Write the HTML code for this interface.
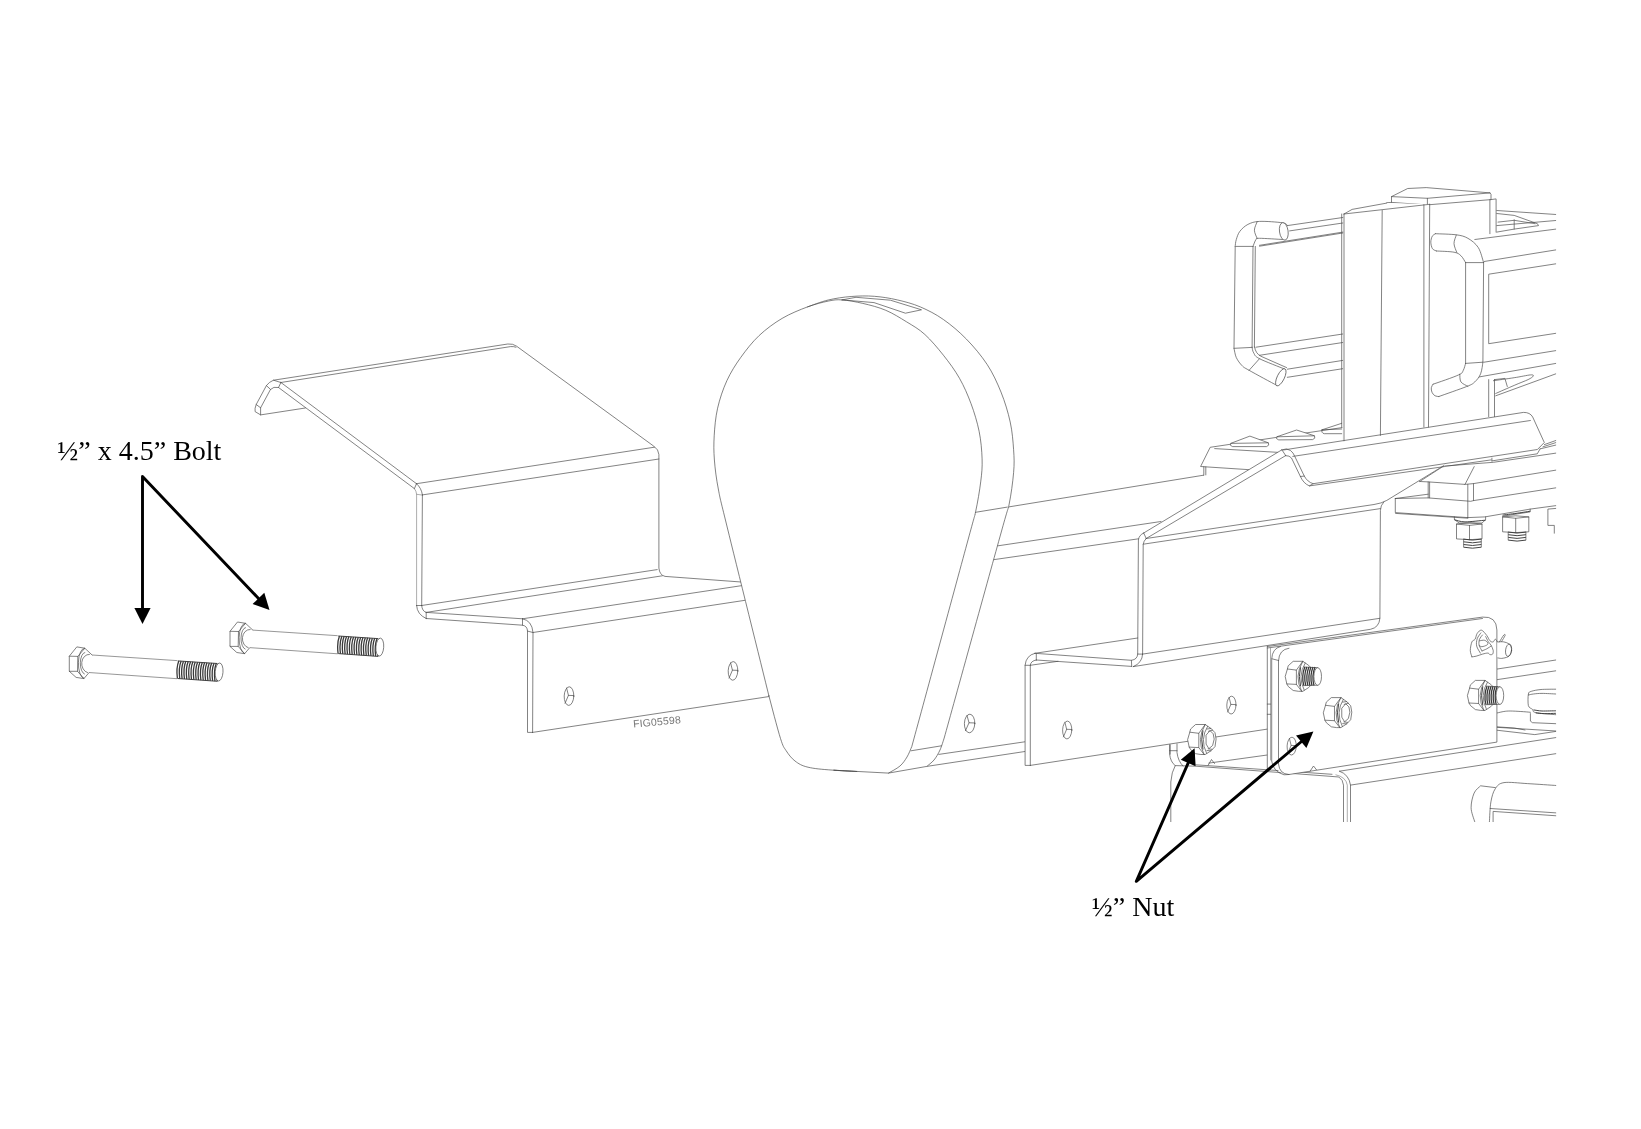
<!DOCTYPE html>
<html><head><meta charset="utf-8">
<style>
html,body{margin:0;padding:0;background:#fff;}
body{width:1641px;height:1129px;overflow:hidden;position:relative;}
svg{position:absolute;left:0;top:0;will-change:transform;}
.l{fill:none;stroke:#484848;stroke-width:0.68;stroke-linecap:round;stroke-linejoin:round;}
.g{fill:none;stroke:#8a8a8a;stroke-width:0.7;stroke-linecap:round;stroke-linejoin:round;}
.s{fill:none;stroke:#666;stroke-width:0.68;}
.t2{fill:none;stroke:#3a3a3a;stroke-width:1.3;}
.w{fill:#fff;stroke:none;}
.wl{fill:#fff;stroke:#484848;stroke-width:0.68;stroke-linejoin:round;}
.t{fill:none;stroke:#3a3a3a;stroke-width:0.95;}
.a{stroke:#000;stroke-width:2.9;fill:none;}
.ah{fill:#000;stroke:none;}
text.lbl{font-family:"Liberation Serif",serif;font-size:28px;fill:#000;opacity:0.999;}
text.fig{font-family:"Liberation Sans",sans-serif;font-size:10.5px;fill:#777;letter-spacing:0.15px;}
</style></head><body>
<svg width="1641" height="1129" viewBox="0 0 1641 1129">
<g id="beam">
<path class="l" d="M975.0,512.4 L1203.6,475.2"/>
<path class="l" d="M990.0,547.0 L1161.0,521.5"/>
<path class="l" d="M990.0,560.2 L1138.6,538.8"/>
<path class="l" d="M938.8,754.4 L1024.9,741.8"/>
<path class="l" d="M926.8,766.4 L1024.9,751.5"/>
<g transform="translate(969.6,723.5) rotate(2)"><ellipse class="l" cx="0" cy="0" rx="5.2" ry="9.3"/><path class="l" d="M-2.9,-8 L-0.6,-0.7 L5.2,-0.7 M-0.6,-0.7 L-3.9,7.3"/></g>
</g>
<defs><clipPath id="clip"><rect x="0" y="0" width="1556.2" height="822"/></clipPath></defs>
<g id="assembly" clip-path="url(#clip)">
<path class="l" d="M1474.8,239.5 L1555.9,229.1"/>
<path class="l" d="M1484.1,261.5 L1555.9,249.9"/>
<path class="l" d="M1555.9,263.8 L1488.7,274.2 L1488.7,343.7 L1555.9,333.3"/>
<path class="l" d="M1484.1,362.2 L1555.9,350.6"/>
<path class="l" d="M1477.1,377.3 L1555.9,363.4"/>
<path class="l" d="M1493.4,380.7 C1496.8,380.2 1508.0,378.7 1514.2,377.7 C1520.4,376.8 1527.2,375.2 1530.4,374.9 C1533.6,374.7 1533.6,375.3 1533.2,376.1 C1532.8,376.9 1531.3,378.0 1528.1,379.6 C1524.9,381.1 1519.6,383.0 1514.2,385.4 C1508.8,387.7 1498.8,392.1 1495.7,393.5"/>
<path class="l" d="M1494.5,379.6 L1504.9,378.4 L1507.3,386.5"/>
<path class="l" d="M1488.7,379.6 L1488.7,416.6"/>
<path class="l" d="M1494.5,379.6 L1494.5,416.6"/>
<path class="l" d="M1495.7,395.8 L1555.9,373.8"/>
<path class="l" d="M1496.8,210.5 L1555.9,214.5"/>
<path class="l" d="M1496.8,213.5 L1514.2,215.4 L1537.4,223.7 L1538.5,225.6 L1514.2,229.1 L1496.8,232.1"/>
<path class="l" d="M1514.2,219.8 L1514.2,229.1"/>
<path class="l" d="M1496.8,225.6 L1555.9,220.5"/>
<path class="l" d="M1498.0,222.1 L1514.2,220.3 L1535.0,223.7"/>
<path class="wl" d="M1391.5,196.6 L1407.7,188.5 L1426.2,187.6 L1490.1,192.9 L1427.4,198.3 L1391.5,196.6"/>
<path class="l" d="M1391.5,196.6 L1391.5,202.4 L1423.9,204.7"/>
<path class="l" d="M1386.8,202.7 L1391.5,202.4"/>
<path class="l" d="M1427.4,198.3 L1427.4,204.7"/>
<path class="l" d="M1490.1,192.9 L1491.0,194.3 L1491.0,199.6 L1429.7,204.7"/>
<path class="l" d="M1491.0,199.6 L1496.1,198.9 L1496.1,232.1"/>
<path class="l" d="M1489.9,199.6 L1489.9,233.7"/>
<path class="l" d="M1287.3,225.6 L1342.8,217.5"/>
<path class="l" d="M1289.6,230.9 L1342.8,223.0"/>
<path class="l" d="M1259.5,246.2 L1342.8,233.0"/>
<path class="l" d="M1259.5,245.3 L1342.8,232.1"/>
<path class="l" d="M1256.0,347.2 L1342.8,334.0"/>
<path class="l" d="M1259.5,355.3 L1342.8,342.5"/>
<path class="l" d="M1287.3,369.2 L1342.8,360.4"/>
<path class="l" d="M1287.3,377.3 L1342.8,368.7"/>
<path class="w" d="M1287.3,225.6 C1286.5,225.1 1287.3,223.5 1282.6,222.8 C1278.0,222.1 1265.3,221.1 1259.5,221.4 C1253.7,221.7 1251.2,222.8 1247.9,224.4 C1244.6,226.1 1241.7,228.9 1239.8,231.4 C1237.9,233.9 1237.1,237.0 1236.3,239.5 C1235.5,242.0 1235.3,245.3 1235.2,246.4 L1253.0,246.4 L1256.0,239.5 L1259.5,238.3 L1282.6,239.5Z"/>
<path class="l" d="M1287.3,225.6 C1286.5,225.1 1287.3,223.5 1282.6,222.8 C1278.0,222.1 1265.3,221.1 1259.5,221.4 C1253.7,221.7 1251.2,222.8 1247.9,224.4 C1244.6,226.1 1241.7,228.9 1239.8,231.4 C1237.9,233.9 1237.1,237.0 1236.3,239.5 C1235.5,242.0 1235.3,245.3 1235.2,246.4"/>
<path class="l" d="M1282.6,239.5 C1278.8,239.3 1263.9,238.3 1259.5,238.3 C1255.0,238.3 1257.1,238.1 1256.0,239.5 C1254.9,240.8 1253.5,245.3 1253.0,246.4"/>
<g>
<path class="w" d="M1235.2,246.4 L1234.0,348.3 L1252.1,347.2 L1253.0,246.4Z"/>
<path class="l" d="M1235.2,246.4 L1234.0,348.3"/>
<path class="l" d="M1253.0,246.4 L1252.1,347.2"/>
<path class="l" d="M1255.3,246.4 L1254.4,347.2"/>
</g>
<path class="w" d="M1234.0,348.3 C1234.4,349.9 1235.0,354.7 1236.3,357.6 C1237.7,360.5 1240.0,363.6 1242.1,365.7 C1244.2,367.8 1243.3,367.0 1249.1,370.3 C1254.8,373.6 1272.2,382.9 1276.8,385.4 L1284.9,369.2 L1259.5,358.7 L1253.7,352.9 L1252.1,347.2Z"/>
<path class="l" d="M1234.0,348.3 C1234.4,349.9 1235.0,354.7 1236.3,357.6 C1237.7,360.5 1240.0,363.6 1242.1,365.7 C1244.2,367.8 1243.3,367.0 1249.1,370.3 C1254.8,373.6 1272.2,382.9 1276.8,385.4"/>
<path class="l" d="M1252.1,347.2 C1252.3,348.1 1252.4,351.0 1253.7,352.9 C1254.9,354.9 1254.3,356.0 1259.5,358.7 C1264.7,361.4 1280.7,367.4 1284.9,369.2"/>
<path class="l" d="M1235.9,246.4 L1253.0,246.4"/>
<path class="l" d="M1234.5,348.3 L1252.1,347.4"/>
<path class="l" d="M1249.1,370.3 L1259.5,358.7"/>
<path class="l" d="M1254.6,347 Q1255.5,353.5 1261,356.3 L1286.6,367.6"/>
<path class="l" d="M1257.2,221.6 C1256.7,223.1 1254.4,227.4 1254.4,230.2 C1254.4,233.0 1256.7,237.2 1257.2,238.5"/>
<ellipse class="wl" cx="1283.8" cy="231.4" rx="4.3" ry="8.8" transform="rotate(-8 1283.8 231.4)"/>
<ellipse class="wl" cx="1280.8" cy="377.3" rx="3.6" ry="9.4" transform="rotate(26 1280.8 377.3)"/>
<path class="w" d="M1344.0,214.0 L1352.1,209.4 L1386.8,203.1 L1429.7,204.3 L1429.7,447.9 L1342.8,447.9Z"/>
<path class="l" d="M1341.7,214.0 L1341.7,440.9"/>
<path class="l" d="M1344.0,214.0 L1344.0,440.9"/>
<path class="l" d="M1382.2,210.5 L1380.4,436.3"/>
<path class="l" d="M1423.9,204.7 L1423.9,427.0"/>
<path class="l" d="M1429.7,204.3 L1428.5,427.0"/>
<path class="l" d="M1344.0,214.0 L1429.7,204.3"/>
<path class="l" d="M1344.0,214.0 L1352.1,209.4 L1386.8,203.1"/>
<path class="w" d="M1435.5,233.7 C1438.9,233.9 1450.9,234.1 1456.3,234.8 C1461.7,235.6 1464.2,236.2 1467.9,238.3 C1471.6,240.4 1475.7,243.5 1478.3,247.6 C1480.9,251.6 1482.7,260.1 1483.6,262.6 L1465.6,262.6 L1460.9,255.7 L1454.0,252.2 L1436.6,251.0Z"/>
<path class="l" d="M1435.5,233.7 C1438.9,233.9 1450.9,234.1 1456.3,234.8 C1461.7,235.6 1464.2,236.2 1467.9,238.3 C1471.6,240.4 1475.7,243.5 1478.3,247.6 C1480.9,251.6 1482.7,260.1 1483.6,262.6"/>
<path class="l" d="M1436.6,251.0 C1439.5,251.2 1449.9,251.4 1454.0,252.2 C1458.0,253.0 1459.0,253.9 1460.9,255.7 C1462.9,257.4 1464.8,261.5 1465.6,262.6"/>
<path class="w" d="M1483.6,262.6 L1482.9,362.2 L1465.6,363.4 L1465.6,262.6Z"/>
<path class="l" d="M1483.6,262.6 L1482.9,362.2"/>
<path class="l" d="M1465.6,262.6 L1465.6,363.4"/>
<path class="w" d="M1482.9,362.2 C1482.6,364.1 1482.0,370.5 1480.6,373.8 C1479.3,377.1 1477.1,379.8 1474.8,381.9 C1472.5,384.0 1472.7,384.1 1466.7,386.5 C1460.7,388.9 1443.6,394.8 1438.9,396.5 L1433.1,384.2 L1458.6,374.9 L1463.3,370.3 L1465.6,363.4Z"/>
<path class="l" d="M1482.9,362.2 C1482.6,364.1 1482.0,370.5 1480.6,373.8 C1479.3,377.1 1477.1,379.8 1474.8,381.9 C1472.5,384.0 1472.7,384.1 1466.7,386.5 C1460.7,388.9 1443.6,394.8 1438.9,396.5"/>
<path class="l" d="M1465.6,363.4 C1465.2,364.5 1464.4,368.4 1463.3,370.3 C1462.1,372.2 1463.6,372.6 1458.6,374.9 C1453.6,377.3 1437.4,382.7 1433.1,384.2"/>
<path class="l" d="M1435.5,233.7 C1434.9,234.1 1433.0,234.8 1432.2,236.2 C1431.5,237.7 1430.8,240.2 1430.8,242.2 C1430.9,244.3 1431.5,247.3 1432.5,248.7 C1433.4,250.2 1435.9,250.7 1436.6,251.0"/>
<path class="l" d="M1433.1,384.2 C1432.8,384.8 1431.5,386.3 1431.3,387.7 C1431.1,389.0 1431.4,391.0 1432.0,392.3 C1432.6,393.7 1433.8,395.1 1435.0,395.8 C1436.2,396.5 1438.3,396.4 1438.9,396.5"/>
<path class="l" d="M1456.3,235.1 C1455.9,236.5 1453.9,240.7 1454.0,243.6 C1454.1,246.5 1456.3,251.0 1456.8,252.4"/>
<path class="l" d="M1465.6,262.6 L1483.6,262.6"/>
<path class="l" d="M1465.6,363.4 L1482.9,362.2"/>
<path class="l" d="M1459.8,374.2 C1460.0,375.5 1459.6,379.9 1460.9,381.9 C1462.3,383.9 1466.7,385.6 1467.9,386.3"/>
</g>
<g id="assembly2" clip-path="url(#clip)">
<path class="w" d="M1200.6,466.5 L1210.2,447.3 L1342.8,427.5 L1342.8,470.0 L1249.3,469.7Z"/>
<path class="l" d="M1249.3,469.7 L1200.6,466.5 L1210.2,447.3 L1342.0,427.6"/>
<path class="l" d="M1214.7,448.6 L1278.7,452.4"/>
<path class="l" d="M1203.8,466.7 L1203.8,475.2"/>
<path class="l" d="M1205.8,466.9 L1205.8,474.9"/>
<path class="wl" d="M1230.7,443.4 L1249.9,436.1 L1268.4,442.8 Q1269.9,445.6 1266.5,446.6 L1232.6,446.6 Q1229.2,445.6 1230.7,443.4 L1268.4,442.8"/>
<path class="wl" d="M1276.8,436.8 L1296.6,430 L1314.5,435.8 Q1316.0,438.6 1312.6,439.6 L1278.7,439.9 Q1275.3,438.9 1276.8,436.8 L1314.5,435.8"/>
<path class="l" d="M1322.0,429.8 L1341.7,423.3"/>
<path class="l" d="M1322,429.8 Q1321,433 1324.3,433.7 L1341.7,433.7"/>
<path class="l" d="M1322.0,429.8 L1341.7,429.0"/>
<path class="l" d="M1556.1,453.1 L1493.4,462.3 L1445.2,466.0"/>
<path class="w" d="M1395.3,498.5 L1428.2,494.2 L1428.2,481.9 L1419.7,481.5 L1443.8,465.9 L1474.2,466.6 L1556.1,455.3 L1556.1,505.6 L1484.9,516.9 L1467.8,517.6 L1395.3,512.6Z"/>
<path class="l" d="M1419.7,481.5 L1443.8,465.9"/>
<path class="l" d="M1419.7,481.5 L1428.2,481.9 L1465.0,484.4 L1474.2,466.6"/>
<path class="l" d="M1465.0,484.4 L1473.5,483.6 L1556.1,470.1"/>
<path class="l" d="M1428.2,481.9 L1428.2,497.8"/>
<path class="l" d="M1429.6,482.2 L1429.6,497.8"/>
<path class="l" d="M1467.8,484.4 L1467.8,517.6"/>
<path class="l" d="M1473.5,483.6 L1473.5,500.6"/>
<path class="l" d="M1395.3,498.5 L1428.2,497.9 L1470.7,501.3 L1473.5,500.6 L1556.1,487.8"/>
<path class="l" d="M1395.3,498.5 L1428.2,494.2"/>
<path class="l" d="M1395.3,498.5 L1395.3,512.6 L1467.8,517.6"/>
<path class="l" d="M1395.6,513.4 L1467.8,518.2"/>
<path class="l" d="M1467.8,517.6 L1484.9,516.9 L1530.2,509.1 L1556.1,505.6"/>
<path class="l" d="M1454.4,516.9 L1454.4,519.7 L1459.3,523.0 L1482.0,523.0 L1485.6,519.7 L1485.6,516.9"/>
<path class="t" d="M1454.4,519.7 C1456.2,520.1 1459.8,521.8 1465.0,521.9 C1470.2,521.9 1482.1,520.4 1485.6,520.2"/>
<path class="wl" d="M1456.5,524.0 L1456.5,538.9 L1469.5,539.7 L1482.0,538.9 L1482.0,524.0 L1469.5,525.4Z"/>
<path class="l" d="M1469.5,525.4 L1469.5,539.7"/>
<path class="l" d="M1456.5,524.0 L1469.5,522.8 L1482.0,524.0"/>
<path class="t" d="M1463.6,539.1 Q1472.5,541.1 1481.3,539.1"/>
<path class="t" d="M1463.6,541.8 Q1472.5,543.8 1481.3,541.8"/>
<path class="t" d="M1463.6,544.5 Q1472.5,546.5 1481.3,544.5"/>
<path class="t" d="M1463.6,547.2 Q1472.5,549.2 1481.3,547.2"/>
<path class="l" d="M1463.6,539.1 L1463.6,546.9"/>
<path class="l" d="M1481.3,539.1 L1481.3,546.9"/>
<path class="l" d="M1502.6,516.2 L1530.2,511.9 L1530.2,509.1"/>
<path class="t" d="M1502.6,515.1 C1504.8,514.8 1511.4,514.0 1516.0,513.4 C1520.6,512.7 1527.8,511.6 1530.2,511.2"/>
<path class="wl" d="M1502.6,516.9 L1502.6,531.8 L1515.7,532.6 L1528.8,531.8 L1528.8,516.9 L1515.7,518.3Z"/>
<path class="l" d="M1515.7,518.3 L1515.7,532.6"/>
<path class="l" d="M1502.6,516.9 L1515.7,515.8 L1528.8,516.9"/>
<path class="t" d="M1508.2,532.1 Q1517.1,534.0 1525.9,532.1"/>
<path class="t" d="M1508.2,534.7 Q1517.1,536.7 1525.9,534.7"/>
<path class="t" d="M1508.2,537.4 Q1517.1,539.4 1525.9,537.4"/>
<path class="t" d="M1508.2,540.1 Q1517.1,542.1 1525.9,540.1"/>
<path class="l" d="M1508.2,532.1 L1508.2,539.8"/>
<path class="l" d="M1525.9,532.1 L1525.9,539.8"/>
<path class="l" d="M1556.1,508.4 L1547.9,509.1 L1547.9,525.4 L1554.3,525.4 L1554.3,533.2"/>
</g>
<g id="left">
<path class="w" d="M255.1,408.3 L266.4,385.6 L273.5,380.2 L507.8,344 Q513,343.5 516.6,346.2 L653.8,446.2 Q658.7,449.5 658.9,454.5 L658.9,568 Q659.5,575 665,576.4 L745,582.3 L772,697 L532.6,732.4 L527.5,732.4 L527.5,631 Q527,626 522.5,625.2 L426.2,618.5 Q416.8,614 416.6,605.5 L416.6,494 L414.4,488.6 L305.3,408 L260.6,414.9 L255.1,411.6Z"/>
<path class="l" d="M280.9,382.5 L273.5,380.2 Q269,382 266.4,385.6 L256.2,404.5 L255.1,408.3 L255.1,411.6 L260.6,414.9 L305.3,408"/>
<path class="l" d="M266.4,385.6 L270.5,389.4 L260.6,407.8 L256.2,404.5"/>
<path class="l" d="M260.6,407.8 L260.6,414.9"/>
<path class="l" d="M270.5,389.4 Q273.5,386.2 278.5,387.5 L280.9,382.5"/>
<path class="l" d="M273.5,380.2 L507.8,344 Q513,343.5 516.6,346.2 L653.8,446.2 Q658.7,449.5 658.9,454.5 L658.9,568 Q659.5,575 665,576.4 L741,582"/>
<path class="l" d="M280.9,382.5 L510.5,346.6 Q513.5,346.3 516,347.2"/>
<path class="l" d="M280.9,382.5 L416.5,483.7"/>
<path class="l" d="M278.5,387.5 L414.4,488.6"/>
<path class="l" d="M416.5,483.7 L414.4,488.6"/>
<path class="l" d="M416.5,483.7 Q421.5,488 422.4,494.9"/>
<path class="g" d="M414.4,488.6 Q416.4,491 416.6,494.3 L422.4,495.1"/>
<path class="l" d="M416.5,483.7 L654.5,447.2"/>
<path class="l" d="M422.4,494.9 L658.9,459.0"/>
<path class="g" d="M416.6,494.3 L416.6,605.5"/>
<path class="l" d="M422.4,494.9 L421.7,605.5"/>
<path class="l" d="M416.6,605.5 L421.7,605.5"/>
<path class="l" d="M416.6,605.5 Q417,614.5 426.2,618.5"/>
<path class="l" d="M421.7,605.5 Q422,611 426.2,612.4 L426.2,618.5"/>
<path class="l" d="M421.7,605.5 L657.2,569.6"/>
<path class="l" d="M426.2,612.4 L662.3,575.8"/>
<path class="l" d="M426.2,612.4 L522.5,618.8"/>
<path class="l" d="M426.2,618.5 L522.5,625.2 Q527.3,626 527.5,631.1 L527.5,732.4 L532.6,732.4"/>
<path class="l" d="M522.5,618.8 Q532,620.5 533,632.5 L532.6,732.4"/>
<path class="l" d="M522.5,618.8 L522.5,625.2"/>
<path class="l" d="M527.5,631.1 L533.0,632.5"/>
<path class="l" d="M522.5,618.8 L742.0,585.6"/>
<path class="l" d="M533.0,632.5 L745.0,600.3"/>
<path class="l" d="M532.6,732.4 L770.0,696.4"/>
<g transform="translate(569,696.1) rotate(2) scale(1.000)"><ellipse class="l" cx="0" cy="0" rx="4.8" ry="9.3"/><path class="l" d="M-2.7,-8 L-0.6,-0.7 L4.8,-0.7 M-0.6,-0.7 L-3.7,7.3"/></g>
<g transform="translate(733,670.9) rotate(2) scale(1.000)"><ellipse class="l" cx="0" cy="0" rx="4.8" ry="9.3"/><path class="l" d="M-2.7,-8 L-0.6,-0.7 L4.8,-0.7 M-0.6,-0.7 L-3.7,7.3"/></g>
<text class="fig" transform="translate(633.5,727.6) rotate(-5.3)">FIG05598</text>
</g>
<g id="tear">
<path class="w" d="M807.5,306.9 C811.0,305.8 820.9,301.7 828.2,300.0 C835.5,298.3 843.5,297.1 851.2,296.5 C858.9,295.9 866.6,295.7 874.3,296.3 C882.0,296.9 889.6,298.1 897.3,299.9 C905.0,301.7 912.6,303.6 920.3,306.9 C928.0,310.2 935.7,314.1 943.4,319.5 C951.1,324.9 959.1,331.6 966.4,339.1 C973.7,346.6 981.3,355.6 987.1,364.4 C992.9,373.2 997.1,382.5 1001.0,392.1 C1004.9,401.7 1008.1,412.4 1010.2,422.0 C1012.3,431.6 1013.0,441.2 1013.6,449.7 C1014.2,458.1 1014.4,463.5 1013.6,472.7 C1012.8,481.9 1011.1,494.8 1009.0,504.9 C1006.9,514.9 1011.8,494.1 1001.0,533.0 C990.2,571.9 953.7,703.8 944.2,738.0 C943.5,740.0 941.7,746.3 940.0,750.0 C938.3,753.7 936.2,757.3 934.0,760.0 C931.8,762.7 928.0,765.3 926.8,766.4 L888.5,773.1 L833,770 L790,540Z"/>
<path class="w" d="M768.9,695.8 C762.0,667.8 735.8,562.3 727.4,528.0 C719.0,493.7 720.7,501.3 718.5,490.0 C716.3,478.7 715.1,469.0 714.4,460.0 C713.7,451.0 713.7,444.4 714.2,435.8 C714.7,427.2 715.5,417.4 717.6,408.2 C719.7,399.0 723.0,389.1 726.9,380.6 C730.8,372.2 735.3,365.0 740.7,357.5 C746.1,350.0 752.2,342.1 759.1,335.6 C766.0,329.1 774.0,323.2 782.1,318.4 C790.2,313.6 799.8,309.8 807.5,306.9 C815.2,304.0 822.5,302.3 828.2,301.1 C834.0,299.9 836.2,299.5 842.0,299.9 C847.8,300.3 855.5,301.7 862.8,303.4 C870.1,305.1 878.5,307.2 885.8,310.3 C893.1,313.4 900.0,317.8 906.5,321.8 C913.0,325.8 918.8,328.9 924.9,334.5 C931.0,340.1 937.6,347.9 943.4,355.2 C949.2,362.5 954.9,370.2 959.5,378.3 C964.1,386.4 967.7,394.8 971.0,403.6 C974.3,412.4 977.2,422.0 979.1,431.2 C981.0,440.4 981.8,450.4 982.1,458.9 C982.4,467.3 981.8,473.1 980.7,481.9 C979.6,490.7 977.7,502.1 975.6,511.8 C973.5,521.5 978.6,500.9 968.0,540.0 C957.4,579.1 921.2,712.1 911.8,746.5 C911.0,748.2 909.0,753.8 907.0,757.0 C905.0,760.2 903.1,763.3 900.0,766.0 C896.9,768.7 890.4,771.9 888.5,773.1 L833.5,770.2 C879.3,772.6 846.9,771.2 833.5,770.2 C820.1,769.2 814.4,768.7 808.0,767.2 C801.6,765.7 798.7,763.8 795.0,761.0 C791.3,758.2 788.4,754.2 786.0,750.5 C783.6,746.8 783.4,747.6 780.5,738.5 C777.6,729.4 770.8,702.9 768.9,695.8Z"/>
<path class="l" d="M807.5,306.9 C811.0,305.8 820.9,301.7 828.2,300.0 C835.5,298.3 843.5,297.1 851.2,296.5 C858.9,295.9 866.6,295.7 874.3,296.3 C882.0,296.9 889.6,298.1 897.3,299.9 C905.0,301.7 912.6,303.6 920.3,306.9 C928.0,310.2 935.7,314.1 943.4,319.5 C951.1,324.9 959.1,331.6 966.4,339.1 C973.7,346.6 981.3,355.6 987.1,364.4 C992.9,373.2 997.1,382.5 1001.0,392.1 C1004.9,401.7 1008.1,412.4 1010.2,422.0 C1012.3,431.6 1013.0,441.2 1013.6,449.7 C1014.2,458.1 1014.4,463.5 1013.6,472.7 C1012.8,481.9 1011.1,494.8 1009.0,504.9 C1006.9,514.9 1011.8,494.1 1001.0,533.0 C990.2,571.9 953.7,703.8 944.2,738.0 C943.5,740.0 941.7,746.3 940.0,750.0 C938.3,753.7 936.2,757.3 934.0,760.0 C931.8,762.7 928.0,765.3 926.8,766.4 L888.5,773.1"/>
<path class="l" d="M768.9,695.8 C762.0,667.8 735.8,562.3 727.4,528.0 C719.0,493.7 720.7,501.3 718.5,490.0 C716.3,478.7 715.1,469.0 714.4,460.0 C713.7,451.0 713.7,444.4 714.2,435.8 C714.7,427.2 715.5,417.4 717.6,408.2 C719.7,399.0 723.0,389.1 726.9,380.6 C730.8,372.2 735.3,365.0 740.7,357.5 C746.1,350.0 752.2,342.1 759.1,335.6 C766.0,329.1 774.0,323.2 782.1,318.4 C790.2,313.6 799.8,309.8 807.5,306.9 C815.2,304.0 822.5,302.3 828.2,301.1 C834.0,299.9 836.2,299.5 842.0,299.9 C847.8,300.3 855.5,301.7 862.8,303.4 C870.1,305.1 878.5,307.2 885.8,310.3 C893.1,313.4 900.0,317.8 906.5,321.8 C913.0,325.8 918.8,328.9 924.9,334.5 C931.0,340.1 937.6,347.9 943.4,355.2 C949.2,362.5 954.9,370.2 959.5,378.3 C964.1,386.4 967.7,394.8 971.0,403.6 C974.3,412.4 977.2,422.0 979.1,431.2 C981.0,440.4 981.8,450.4 982.1,458.9 C982.4,467.3 981.8,473.1 980.7,481.9 C979.6,490.7 977.7,502.1 975.6,511.8 C973.5,521.5 978.6,500.9 968.0,540.0 C957.4,579.1 921.2,712.1 911.8,746.5 C911.0,748.2 909.0,753.8 907.0,757.0 C905.0,760.2 903.1,763.3 900.0,766.0 C896.9,768.7 890.4,771.9 888.5,773.1 L833.5,770.2 C879.3,772.6 846.9,771.2 833.5,770.2 C820.1,769.2 814.4,768.7 808.0,767.2 C801.6,765.7 798.7,763.8 795.0,761.0 C791.3,758.2 788.4,754.2 786.0,750.5 C783.6,746.8 783.4,747.6 780.5,738.5 C777.6,729.4 770.8,702.9 768.9,695.8Z"/>
<path class="l" d="M911.0,750.8 L941.5,745.8"/>
<path class="l" d="M975.6,512.3 L1007.3,507.1"/>
<path class="l" d="M842.0,299.9 L856.0,297.3 L890.4,300.2 L921.5,309.8 L905.4,313.2 L874.0,302.6 L842.0,299.9"/>
</g>
<g id="right">
<path class="w" d="M1143.7,533 L1281.9,449.8 Q1287,447.8 1290.2,450.5 L1523.5,412.4 Q1530,412.5 1532.7,417 L1544.3,442.5 L1537.4,449.5 L1445,465 L1386.8,500.4 L1380.4,509.7 L1380.4,612.4 L1489,617.4 L1497,625 L1497,742 L1290,774.3 L1277.5,765 L1271.3,760 L1268,729 L1030.3,765.4 L1025.1,765.4 L1025.1,665.3 Q1026,655.5 1034.9,653.3 L1137.7,638 L1138.6,538.8Z"/>
<path class="l" d="M1143.7,533.0 L1281.9,449.8"/>
<path class="l" d="M1146.2,538.5 L1285.7,455.6"/>
<path class="l" d="M1143.7,533.0 L1146.2,538.5"/>
<path class="l" d="M1143.7,533 Q1139,535 1138.4,540 L1137.7,654.1 L1142.6,654.1"/>
<path class="l" d="M1146.2,538.5 Q1143.5,541 1143.2,544.5 L1142.6,654.1"/>
<path class="l" d="M1146.2,538.5 L1374,504.5 Q1381.5,503.4 1386.8,500.4 L1444,465.5"/>
<path class="l" d="M1143.2,544.2 L1380.4,508.6"/>
<path class="l" d="M1383.8,502 Q1380.4,505.5 1380.4,510.5 L1379.9,618.3 L1142.6,654.1"/>
<path class="l" d="M1281.9,449.8 Q1287,447.6 1290.5,450.5 Q1293.4,452.8 1294.7,456.2 L1304.3,476.1 Q1307.5,482 1313.2,483.7 L1537.4,449.5 L1544.3,442.5 L1532.7,417 Q1530,412.3 1523.5,412.4 L1283.5,450"/>
<path class="l" d="M1285.7,455.6 Q1289.5,455.5 1291.5,458 L1300.4,476.5 Q1303.5,483.5 1309.4,485.9 L1491,459.9"/>
<path class="l" d="M1281.9,449.8 L1285.7,455.6"/>
<path class="l" d="M1292.8,456.4 L1530.4,420.5"/>
<path class="l" d="M1309.4,485.9 L1313.2,483.7"/>
<g clip-path="url(#clip)">
<path class="l" d="M1544.4,444.6 L1556.1,440.4"/>
<path class="l" d="M1543.0,446.8 L1556.1,442.5"/>
<path class="l" d="M1491.9,460.9 L1537.3,453.8 L1540.1,448.9"/>
<path class="l" d="M1540.1,448.9 L1556.1,445.0"/>
<path class="l" d="M1491.9,458.1 L1491.9,460.9"/>
</g>
<path class="l" d="M1300.4,476.5 L1304.3,476.1"/>
<path class="l" d="M1142.6,654.1 Q1142.3,663 1133.3,666.6"/>
<path class="l" d="M1137.7,654.1 Q1137.5,659.5 1131.4,660.3 L1131.7,666.4"/>
<path class="l" d="M1133.3,666.6 L1370.5,629.3 Q1379.3,627.5 1379.9,618.3"/>
<path class="l" d="M1034.9,653.3 L1137.7,638"/>
<path class="l" d="M1034.9,653.3 L1131.4,660.3"/>
<path class="l" d="M1036.3,660 L1131.7,666.4"/>
<path class="l" d="M1036.3,653.8 L1036.3,660.0"/>
<path class="l" d="M1034.9,653.3 Q1026,655.5 1025.1,665.3 L1025.1,765.4 L1030.3,765.4"/>
<path class="l" d="M1036.3,660 Q1030.8,660.8 1030.3,665.3 L1030.3,765.4"/>
<path class="l" d="M1025.1,665.3 L1030.3,665.3"/>
<path class="l" d="M1030.3,665.3 L1058.0,661.3"/>
<path class="l" d="M1030.3,765.4 L1268.0,729.0"/>
<g transform="translate(1067.2,730) rotate(2) scale(0.958)"><ellipse class="l" cx="0" cy="0" rx="4.8" ry="9.3"/><path class="l" d="M-2.7,-8 L-0.6,-0.7 L4.8,-0.7 M-0.6,-0.7 L-3.7,7.3"/></g>
<g transform="translate(1231.4,705.1) rotate(2) scale(0.958)"><ellipse class="l" cx="0" cy="0" rx="4.8" ry="9.3"/><path class="l" d="M-2.7,-8 L-0.6,-0.7 L4.8,-0.7 M-0.6,-0.7 L-3.7,7.3"/></g>
</g>
<g id="plate" clip-path="url(#clip)">
<path class="l" d="M1497.4,669.0 L1555.9,660.0"/>
<path class="l" d="M1497.4,679.6 L1555.9,670.8"/>
<path class="l" d="M1497.4,712.9 C1498.5,712.7 1501.7,711.8 1503.8,711.5 C1505.9,711.2 1507.3,711.0 1510.2,711.0 C1513.0,711.0 1517.4,711.3 1520.8,711.5 C1524.2,711.7 1528.8,712.1 1530.4,712.3"/>
<path class="l" d="M1497.4,726.9 L1514.4,728.0 L1525.0,730.0"/>
<path class="l" d="M1555.9,689.2 C1553.4,689.2 1545.1,689.2 1541.0,689.5 C1536.9,689.9 1533.5,690.6 1531.4,691.3 C1529.3,692.1 1528.9,691.6 1528.4,694.0 C1527.9,696.4 1527.8,703.1 1528.4,705.7 C1529.1,708.2 1531.3,708.2 1532.5,709.4 C1533.7,710.5 1531.8,711.7 1535.7,712.6 C1539.6,713.5 1552.5,714.4 1555.9,714.7"/>
<path class="l" d="M1528.4,695.0 C1529.3,694.9 1531.3,694.2 1533.5,694.0 C1535.8,693.7 1538.3,693.4 1542.0,693.4 C1545.8,693.4 1553.6,693.9 1555.9,694.0"/>
<path class="t" d="M1533.5,709.9 C1535.0,710.1 1538.3,710.8 1542.0,711.0 C1545.8,711.1 1553.6,710.8 1555.9,710.8"/>
<path class="t" d="M1535.7,712.9 C1537.1,713.0 1540.8,713.6 1544.2,713.6 C1547.5,713.7 1553.9,713.4 1555.9,713.3"/>
<path class="l" d="M1530.4,713.6 L1530.4,721.1 L1532.5,722.7 L1555.9,723.7"/>
<path class="l" d="M1496.7,727.3 L1556.0,731.0"/>
<path class="l" d="M1496.7,730.2 L1534.8,734.6 L1556.0,731.4"/>
<path class="l" d="M1170.2,744.8 L1170.2,754.2"/>
<path class="l" d="M1169.6,744.8 L1169.6,754 Q1170.5,762 1175.2,765.6 L1195.7,766.2 L1330,776.3 L1338.8,777 Q1343,779.5 1343.5,785.1 L1343.5,822"/>
<path class="l" d="M1339.5,771.2 Q1349,774.5 1350.5,785.1 L1350.5,822"/>
<path class="g" d="M1335.9,774.8 Q1346,777 1347.3,785.1 L1347.3,822"/>
<path class="l" d="M1177,743.9 L1177,752.5 Q1178,761 1183,766"/>
<path class="l" d="M1169.6,750.7 L1177.0,750.7"/>
<path class="l" d="M1175.2,765.6 Q1171.5,772 1170.8,782 L1170.8,822"/>
<path class="l" d="M1195.7,764.8 L1332,774.3"/>
<path class="l" d="M1350.5,785.1 L1556.3,753.6"/>
<path class="l" d="M1208.9,763.1 L1267.3,755.0"/>
<path class="l" d="M1339.5,771.2 L1556.3,737.5"/>
<path class="l" d="M1474.8,822.0 C1474.2,819.6 1471.2,812.6 1471.1,807.8 C1471.0,803.0 1472.5,796.8 1474.1,793.1 C1475.7,789.4 1479.5,787.0 1480.6,785.8 L1495.3,787.6"/>
<path class="l" d="M1489.4,822.0 C1489.7,818.6 1489.9,807.4 1490.9,801.9 C1491.9,796.4 1493.1,791.9 1495.3,788.7 C1497.5,785.5 1498.7,783.5 1504.0,782.6 C1509.3,781.8 1518.7,783.1 1527.4,783.6 C1536.1,784.1 1551.5,785.2 1556.3,785.5"/>
<path class="l" d="M1490.2,808.5 L1556.3,812.9"/>
<path class="l" d="M1493.1,822.0 L1493.1,811.4 L1556.3,815.8"/>
<path class="w" d="M1267.3,646.6 L1482.5,617.2 Q1496.5,616 1496.9,630 L1496.9,742.1 L1289,774.5 Q1278,775 1271.5,760 L1267.3,770Z"/>
<path class="l" d="M1267.3,646.5 L1482.5,617.1 Q1496.5,616 1496.9,630 L1496.9,742.1 L1289,774.5 Q1279.5,774 1278.5,764 L1278.5,661 Q1279,649.5 1289,648.2"/>
<path class="l" d="M1267.3,648 L1482.5,618.5"/>
<path class="l" d="M1280.5,646.5 Q1272.2,648.5 1271.7,659 L1271.7,761 Q1273,771.5 1284,774.8 L1289,774.5"/>
<path class="l" d="M1272.0,658.8 L1278.6,660.5"/>
<path class="l" d="M1267.3,646.6 L1267.3,771.0"/>
<path class="g" d="M1270.5,648.0 L1270.5,760.0"/>
<path class="l" d="M1267.3,704.1 L1270.5,704.1"/>
<path class="l" d="M1267.3,714.3 L1270.5,714.3"/>
<g transform="translate(1291.7,746.1) rotate(2) scale(0.958)"><ellipse class="l" cx="0" cy="0" rx="4.8" ry="9.3"/><path class="l" d="M-2.7,-8 L-0.6,-0.7 L4.8,-0.7 M-0.6,-0.7 L-3.7,7.3"/></g>
<path class="l" d="M1208,765.5 L1211.5,759.5 L1214.5,763.5"/>
<path class="l" d="M1310,771.3 L1313.5,766 L1316.5,769.8"/>
<g transform="translate(1299.6,676.3) scale(1.0)"><path class="wl" d="M-14.4,0.2 L-12.2,-7.3 L-11.4,-10.5 L-6.4,-15.0 L3.2,-15.0 L9.0,-11.0 L13.0,-6.8 L14.1,-0.4 L13.0,7.1 L9.0,11.3 L3.2,15.0 L-1.1,15.0 L-6.4,14.2 L-11.2,10.3 L-12.8,7.6Z"/><path class="l" d="M-12.2,-7.3 L-3.2,-6.2 L-3.2,8.1 L-12.8,7.6"/><path class="l" d="M-3.2,-6.2 L3.2,-15.0"/><path class="l" d="M-3.2,8.1 L2.1,15.0"/><path class="l" d="M3.2,-15 Q-6,0 2.1,15"/><path class="l" d="M5.6,-13.2 Q-2.5,0 4.6,13.8"/><path class="t" d="M1,-9 Q-1.5,0 1,10"/><path class="w" d="M4,-9.3 L18,-8.4 L21.5,0 L18,8.7 L4,9.3Z"/><path class="l" d="M4,-9.3 L18,-8.6 M4,9.3 L18,8.9"/><path class="t2" d="M5.2,-9.2 Q1.6,0 4.2,9.2"/><path class="t2" d="M7.2,-9.2 Q3.6,0 6.2,9.2"/><path class="t2" d="M9.3,-9.2 Q5.7,0 8.3,9.2"/><path class="t2" d="M11.3,-9.2 Q7.8,0 10.3,9.2"/><path class="t2" d="M13.4,-9.2 Q9.8,0 12.4,9.2"/><path class="t2" d="M15.4,-9.2 Q11.8,0 14.4,9.2"/><ellipse class="wl" cx="18.1" cy="0.2" rx="3.8" ry="8.8"/></g>
<g transform="translate(1337.7,712.6) scale(1.0)"><path class="wl" d="M-14.4,0.2 L-12.2,-7.3 L-11.4,-10.5 L-6.4,-15.0 L3.2,-15.0 L9.0,-11.0 L13.0,-6.8 L14.1,-0.4 L13.0,7.1 L9.0,11.3 L3.2,15.0 L-1.1,15.0 L-6.4,14.2 L-11.2,10.3 L-12.8,7.6Z"/><path class="l" d="M-12.2,-7.3 L-3.2,-6.2 L-3.2,8.1 L-12.8,7.6"/><path class="l" d="M-3.2,-6.2 L3.2,-15.0"/><path class="l" d="M-3.2,8.1 L2.1,15.0"/><path class="l" d="M3.2,-15 Q-6,0 2.1,15"/><path class="l" d="M5.6,-13.2 Q-2.5,0 4.6,13.8"/><path class="t" d="M1,-9 Q-1.5,0 1,10"/><path class="l" d="M4.3,-4.6 L8.0,-8.9 L11.2,-5.7 L12.2,-0.4 L10.6,6.0 L6.9,9.2 L4.3,4.9Z"/><path class="l" d="M5,-10.5 L9,-11 M6.5,-8.2 L10.6,-9.4 M5,11 L9,11.3 M6.2,9.3 L10,9.8"/></g>
<g transform="translate(1481.8,695.4) scale(1.0)"><path class="wl" d="M-14.4,0.2 L-12.2,-7.3 L-11.4,-10.5 L-6.4,-15.0 L3.2,-15.0 L9.0,-11.0 L13.0,-6.8 L14.1,-0.4 L13.0,7.1 L9.0,11.3 L3.2,15.0 L-1.1,15.0 L-6.4,14.2 L-11.2,10.3 L-12.8,7.6Z"/><path class="l" d="M-12.2,-7.3 L-3.2,-6.2 L-3.2,8.1 L-12.8,7.6"/><path class="l" d="M-3.2,-6.2 L3.2,-15.0"/><path class="l" d="M-3.2,8.1 L2.1,15.0"/><path class="l" d="M3.2,-15 Q-6,0 2.1,15"/><path class="l" d="M5.6,-13.2 Q-2.5,0 4.6,13.8"/><path class="t" d="M1,-9 Q-1.5,0 1,10"/><path class="w" d="M4,-9.3 L18,-8.4 L21.5,0 L18,8.7 L4,9.3Z"/><path class="l" d="M4,-9.3 L18,-8.6 M4,9.3 L18,8.9"/><path class="t2" d="M5.2,-9.2 Q1.6,0 4.2,9.2"/><path class="t2" d="M7.2,-9.2 Q3.6,0 6.2,9.2"/><path class="t2" d="M9.3,-9.2 Q5.7,0 8.3,9.2"/><path class="t2" d="M11.3,-9.2 Q7.8,0 10.3,9.2"/><path class="t2" d="M13.4,-9.2 Q9.8,0 12.4,9.2"/><path class="t2" d="M15.4,-9.2 Q11.8,0 14.4,9.2"/><ellipse class="wl" cx="18.1" cy="0.2" rx="3.8" ry="8.8"/></g>
<path class="wl" d="M1497.4,641.9 C1498.5,641.9 1501.8,641.5 1503.8,641.9 C1505.7,642.2 1507.8,643.0 1509.1,644.0 C1510.4,645.1 1511.2,646.7 1511.4,648.3 C1511.7,649.9 1511.3,652.2 1510.7,653.6 C1510.1,655.0 1509.5,656.0 1508.0,656.8 C1506.5,657.6 1503.4,658.2 1501.7,658.4 C1499.9,658.5 1498.1,657.9 1497.4,657.8"/>
<ellipse class="l" cx="1508.6" cy="650.2" rx="3" ry="6.2" transform="rotate(8 1508.6 650.2)"/>
<path class="l" d="M1499.5,641.9 C1500.2,640.7 1502.9,636.0 1503.8,635.0 C1504.7,633.9 1505.4,634.4 1505.1,635.5 C1504.7,636.6 1502.2,640.4 1501.7,641.4"/>
<path class="l" d="M1471.9,656.8 C1471.6,655.7 1470.3,652.9 1470.3,650.4 C1470.3,647.9 1471.1,643.8 1471.9,641.9 C1472.7,640.0 1474.2,640.6 1475.1,639.2 C1476.0,637.8 1476.1,634.9 1477.2,633.4 C1478.3,631.9 1479.9,629.8 1481.5,630.2 C1483.1,630.6 1485.4,633.7 1486.8,635.5 C1488.2,637.3 1488.9,639.8 1490.0,640.8 C1491.0,641.9 1492.3,642.2 1493.2,641.9 C1494.0,641.6 1494.6,639.2 1495.3,639.2 C1496.0,639.2 1497.0,641.4 1497.4,641.9"/>
<path class="l" d="M1471.9,656.8 C1472.6,656.7 1474.4,656.7 1476.1,656.2 C1477.9,655.8 1480.6,654.6 1482.5,654.1 C1484.5,653.6 1486.6,653.0 1487.8,653.1 C1489.1,653.1 1489.2,654.5 1490.0,654.6 C1490.8,654.8 1492.1,654.8 1492.6,654.1 C1493.2,653.4 1493.4,651.9 1493.2,650.4 C1492.9,648.9 1491.8,646.5 1491.0,645.1 C1490.2,643.7 1489.3,643.3 1488.4,641.9 C1487.5,640.5 1486.2,637.5 1485.7,636.6"/>
<path class="l" d="M1480.4,653.1 C1479.8,651.9 1477.2,648.5 1476.7,646.1 C1476.1,643.8 1476.5,640.9 1477.2,638.7 C1477.9,636.5 1480.3,633.8 1480.9,632.9"/>
<path class="l" d="M1482.0,650.9 C1481.5,650.0 1479.5,647.0 1479.1,645.1 C1478.7,643.1 1479.0,640.9 1479.5,639.2 C1480.1,637.5 1482.0,635.7 1482.5,635.0"/>
<path class="l" d="M1479.5,640.8 C1480.4,640.7 1483.3,639.9 1484.6,640.3 C1486.0,640.6 1487.5,642.2 1487.8,643.0 C1488.2,643.8 1487.7,644.5 1486.8,645.1 C1485.8,645.7 1483.2,646.6 1482.0,646.7 C1480.7,646.8 1479.8,645.8 1479.3,645.6"/>
<path class="l" d="M1482.0,650.9 C1482.8,650.6 1485.3,649.6 1486.8,648.8 C1488.3,648.0 1490.3,646.6 1491.0,646.1"/>
</g>
<g transform="translate(1202,739.5) scale(1.0)"><path class="wl" d="M-14.4,0.2 L-12.2,-7.3 L-11.4,-10.5 L-6.4,-15.0 L3.2,-15.0 L9.0,-11.0 L13.0,-6.8 L14.1,-0.4 L13.0,7.1 L9.0,11.3 L3.2,15.0 L-1.1,15.0 L-6.4,14.2 L-11.2,10.3 L-12.8,7.6Z"/><path class="l" d="M-12.2,-7.3 L-3.2,-6.2 L-3.2,8.1 L-12.8,7.6"/><path class="l" d="M-3.2,-6.2 L3.2,-15.0"/><path class="l" d="M-3.2,8.1 L2.1,15.0"/><path class="l" d="M3.2,-15 Q-6,0 2.1,15"/><path class="l" d="M5.6,-13.2 Q-2.5,0 4.6,13.8"/><path class="t" d="M1,-9 Q-1.5,0 1,10"/><path class="l" d="M4.3,-4.6 L8.0,-8.9 L11.2,-5.7 L12.2,-0.4 L10.6,6.0 L6.9,9.2 L4.3,4.9Z"/><path class="l" d="M5,-10.5 L9,-11 M6.5,-8.2 L10.6,-9.4 M5,11 L9,11.3 M6.2,9.3 L10,9.8"/></g>
<g id="bolts">
<g>
<path class="w" d="M88.0,654.7 L219.0,663.3 L223.0,672.0 L217.0,681.5 L88.0,672.5Z"/>
<path class="s" d="M92.1,655.0 L177.0,660.6"/>
<path class="s" d="M88.7,672.5 L177.0,678.7"/>
<path class="t" d="M177.6,660.9 L217.5,663.5"/>
<path class="t" d="M177.6,678.5 L217.5,681.3"/>
<path class="t2" d="M178.80,660.90 Q176.00,667.68 177.40,678.47"/>
<path class="t2" d="M181.15,661.05 Q178.35,667.84 179.75,678.63"/>
<path class="t2" d="M183.49,661.21 Q180.69,668.00 182.09,678.80"/>
<path class="t2" d="M185.84,661.36 Q183.04,668.16 184.44,678.96"/>
<path class="t2" d="M188.19,661.52 Q185.39,668.32 186.79,679.13"/>
<path class="t2" d="M190.54,661.67 Q187.74,668.48 189.14,679.29"/>
<path class="t2" d="M192.88,661.82 Q190.08,668.64 191.48,679.46"/>
<path class="t2" d="M195.23,661.98 Q192.43,668.80 193.83,679.63"/>
<path class="t2" d="M197.58,662.13 Q194.78,668.96 196.18,679.79"/>
<path class="t2" d="M199.92,662.28 Q197.12,669.12 198.52,679.96"/>
<path class="t2" d="M202.27,662.44 Q199.47,669.28 200.87,680.12"/>
<path class="t2" d="M204.62,662.59 Q201.82,669.44 203.22,680.29"/>
<path class="t2" d="M206.96,662.75 Q204.16,669.60 205.56,680.45"/>
<path class="t2" d="M209.31,662.90 Q206.51,669.76 207.91,680.62"/>
<path class="t2" d="M211.66,663.05 Q208.86,669.92 210.26,680.78"/>
<path class="t2" d="M214.01,663.21 Q211.21,670.08 212.61,680.95"/>
<path class="t2" d="M216.35,663.36 Q213.55,670.24 214.95,681.11"/>
<path class="t2" d="M218.70,663.51 Q215.90,670.40 217.30,681.28"/>
<ellipse class="wl" cx="219.1" cy="672.0" rx="3.9" ry="9" transform="rotate(4 219.1 672.0)"/>
<path class="w" d="M69.3,656.2 L76.8,646.9 L84.8,648.2 L92.1,655.0 L92.0,660.0 L89.0,668.0 L88.7,673.0 L83.9,678.6 L76.1,677.4 L69.3,671.3Z"/>
<path class="l" d="M69.3,656.2 L76.8,646.9 L84.8,648.2 L77.8,656.4 L69.3,656.2 L69.3,671.3 L77.5,671.3 L77.8,656.4"/>
<path class="l" d="M69.3,671.3 L76.1,677.4 L83.9,678.6 L77.5,671.3"/>
<path class="l" d="M84.8,648.2 L92.1,655.0"/>
<path class="l" d="M83.9,678.6 L88.7,673.0"/>
<path class="l" d="M84.6,648.4 A5.7,14.9 0 0 0 83.7,678.4"/>
<path class="l" d="M84.8,652.5 A4.7,10.8 0 0 0 84.4,674.0"/>
<path class="l" d="M89.4,654.4 A7.2,9.2 0 0 0 87.5,672.6"/>
</g>
<g>
<path class="w" d="M248.7,629.8 L379.7,638.4 L383.7,647.1 L377.7,656.6 L248.7,647.6Z"/>
<path class="s" d="M252.8,630.1 L337.7,635.7"/>
<path class="s" d="M249.4,647.6 L337.7,653.8"/>
<path class="t" d="M338.3,636.0 L378.2,638.6"/>
<path class="t" d="M338.3,653.6 L378.2,656.4"/>
<path class="t2" d="M339.50,636.00 Q336.70,642.78 338.10,653.57"/>
<path class="t2" d="M341.85,636.15 Q339.05,642.94 340.45,653.73"/>
<path class="t2" d="M344.19,636.31 Q341.39,643.10 342.79,653.90"/>
<path class="t2" d="M346.54,636.46 Q343.74,643.26 345.14,654.06"/>
<path class="t2" d="M348.89,636.62 Q346.09,643.42 347.49,654.23"/>
<path class="t2" d="M351.24,636.77 Q348.44,643.58 349.84,654.39"/>
<path class="t2" d="M353.58,636.92 Q350.78,643.74 352.18,654.56"/>
<path class="t2" d="M355.93,637.08 Q353.13,643.90 354.53,654.73"/>
<path class="t2" d="M358.28,637.23 Q355.48,644.06 356.88,654.89"/>
<path class="t2" d="M360.62,637.38 Q357.82,644.22 359.22,655.06"/>
<path class="t2" d="M362.97,637.54 Q360.17,644.38 361.57,655.22"/>
<path class="t2" d="M365.32,637.69 Q362.52,644.54 363.92,655.39"/>
<path class="t2" d="M367.66,637.85 Q364.86,644.70 366.26,655.55"/>
<path class="t2" d="M370.01,638.00 Q367.21,644.86 368.61,655.72"/>
<path class="t2" d="M372.36,638.15 Q369.56,645.02 370.96,655.88"/>
<path class="t2" d="M374.71,638.31 Q371.91,645.18 373.31,656.05"/>
<path class="t2" d="M377.05,638.46 Q374.25,645.34 375.65,656.21"/>
<path class="t2" d="M379.40,638.61 Q376.60,645.50 378.00,656.38"/>
<ellipse class="wl" cx="379.8" cy="647.1" rx="3.9" ry="9" transform="rotate(4 379.8 647.1)"/>
<path class="w" d="M230.0,631.3 L237.5,622.0 L245.5,623.3 L252.8,630.1 L252.7,635.1 L249.7,643.1 L249.4,648.1 L244.6,653.7 L236.8,652.5 L230.0,646.4Z"/>
<path class="l" d="M230.0,631.3 L237.5,622.0 L245.5,623.3 L238.5,631.5 L230.0,631.3 L230.0,646.4 L238.2,646.4 L238.5,631.5"/>
<path class="l" d="M230.0,646.4 L236.8,652.5 L244.6,653.7 L238.2,646.4"/>
<path class="l" d="M245.5,623.3 L252.8,630.1"/>
<path class="l" d="M244.6,653.7 L249.4,648.1"/>
<path class="l" d="M245.3,623.5 A5.7,14.9 0 0 0 244.4,653.5"/>
<path class="l" d="M245.5,627.6 A4.7,10.8 0 0 0 245.1,649.1"/>
<path class="l" d="M250.1,629.5 A7.2,9.2 0 0 0 248.2,647.7"/>
</g>
</g>
<g id="arrows">
<path class="ah" d="M142.5,624.0 L134.4,608.0 L150.6,608.0Z"/>
<path class="ah" d="M269.5,610.0 L252.6,604.0 L264.3,592.8Z"/>
<path class="a" stroke-linejoin="round" d="M142.5,610.0 L142.5,476.4 L259.9,599.9"/>
<path class="ah" d="M1194.6,748.3 L1195.6,766.2 L1180.8,759.7Z"/>
<path class="ah" d="M1313.4,731.5 L1306.4,748.0 L1296.0,735.6Z"/>
<path class="a" stroke-linejoin="round" d="M1189.0,761.1 L1136.3,881.3 L1302.7,740.5"/>
</g>
<text class="lbl" x="57.3" y="459.8">½” x 4.5” Bolt</text>
<text class="lbl" x="1091.8" y="915.6">½” Nut</text>
</svg>
</body></html>
